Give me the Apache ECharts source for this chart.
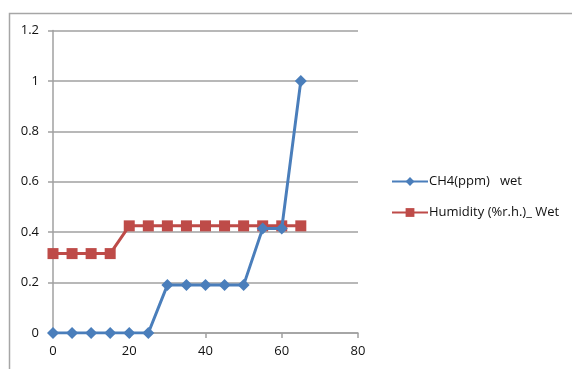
<!DOCTYPE html>
<html><head><meta charset="utf-8">
<script src="https://cdn.jsdelivr.net/npm/echarts@6/dist/echarts.min.js"></script>
<style>html,body{margin:0;padding:0;background:#fff}#c{width:572px;height:369px}</style>
</head><body><div id="c"></div>
<script>
const xValues = [0,5,10,15,20,25,30,35,40,45,50,55,60,65];
const ch4Wet = [0,0,0,0,0,0,0.19,0.19,0.19,0.19,0.19,0.415,0.415,1.0];
const humidityWet = [0.315,0.315,0.315,0.315,0.425,0.425,0.425,0.425,0.425,0.425,0.425,0.425,0.425,0.425];
const seriesNames = ['CH4(ppm)   wet','Humidity (%r.h.)_ Wet'];
const toPairs = (xs, ys) => xs.map((x,i)=>[x, ys[i]]);
const chart = echarts.init(document.getElementById('c'));
const font = 'Open Sans';
chart.setOption({
  animation:false,
  graphic:[{type:'rect',shape:{x:9.5,y:13.5,width:700,height:500},style:{fill:'none',stroke:'#a6a6a6',lineWidth:1.5},z:-1}],
  grid:{left:53,top:30.5,width:305,height:302.5,containLabel:false},
  legend:{orient:'vertical',left:386,top:170,itemGap:18,itemWidth:36,itemHeight:11,
    textStyle:{fontFamily:font,fontSize:13,color:'#111',padding:[0,0,0,-4]},
    data:seriesNames},
  xAxis:{type:'value',min:0,max:80,interval:20,
    axisLine:{show:true,lineStyle:{color:'#a0a0a0',width:1.5}},
    axisTick:{show:true,length:5,lineStyle:{color:'#a0a0a0',width:1.5}},
    splitLine:{show:false},
    axisLabel:{fontFamily:font,fontSize:13,color:'#111',margin:12}},
  yAxis:{type:'value',min:0,max:1.2,interval:0.2,
    axisLine:{show:true,lineStyle:{color:'#a0a0a0',width:1.5}},
    axisTick:{show:true,length:5,lineStyle:{color:'#a0a0a0',width:1.5}},
    splitLine:{show:true,lineStyle:{color:'#a0a0a0',width:1.5}},
    axisLabel:{fontFamily:font,fontSize:13,color:'#111',margin:14,formatter:v=>String(+v.toFixed(1))}},
  series:[
    {name:seriesNames[0],type:'line',data:toPairs(xValues,ch4Wet),symbol:'diamond',symbolSize:12,
      itemStyle:{color:'#4a7ebb'},lineStyle:{color:'#4a7ebb',width:3},z:3},
    {name:seriesNames[1],type:'line',data:toPairs(xValues,humidityWet),symbol:'rect',symbolSize:11,
      itemStyle:{color:'#be4b48'},lineStyle:{color:'#be4b48',width:3},z:2}
  ]
});
</script></body></html>
